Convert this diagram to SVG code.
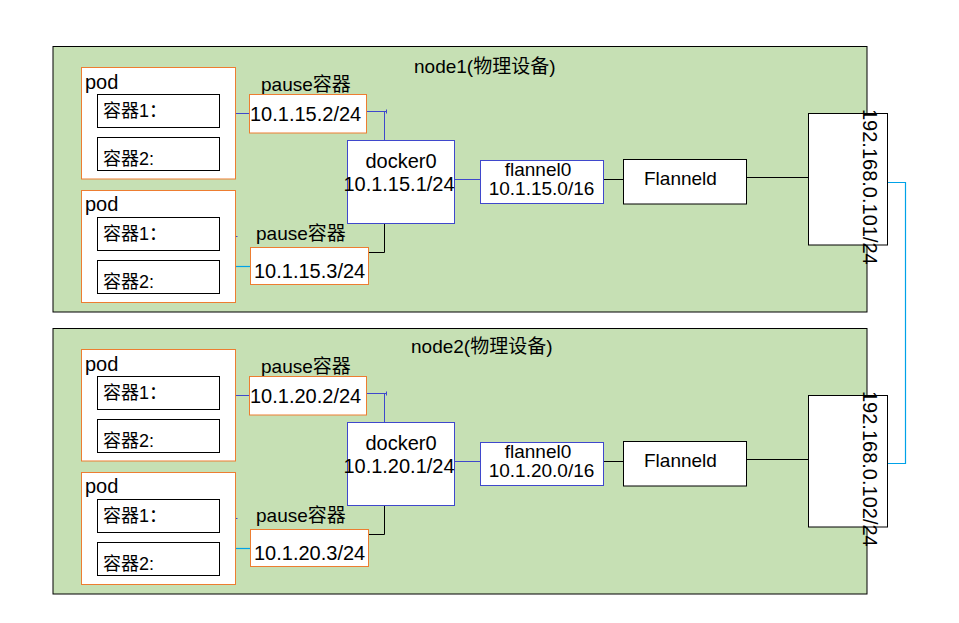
<svg xmlns="http://www.w3.org/2000/svg" width="959" height="623" viewBox="0 0 959 623">
<style>
text{font-family:"Liberation Sans","Noto Sans CJK SC",sans-serif;fill:#000}
.frame{fill:#c6e0b4;stroke:#000;stroke-width:1}
.pod{fill:#fff;stroke:#ed7d31;stroke-width:1}
.ctr{fill:#fff;stroke:#000;stroke-width:1}
.pause{fill:#fff;stroke:#ed7d31;stroke-width:1}
.blue{fill:#fff;stroke:#3f48cc;stroke-width:1}
.blk{fill:#fff;stroke:#000;stroke-width:1}
.t18{font-size:18px}
.t19{font-size:19px}
.t20{font-size:20px}
.mid{text-anchor:middle}
.cb{fill:none;stroke:#3f48cc;stroke-width:1}
.ck{fill:none;stroke:#000;stroke-width:1}
.cc{fill:none;stroke:#00a2e8;stroke-width:1.2}
</style>

<g id="node1">
<rect class="frame" x="53" y="46.5" width="814" height="265.5"/>
<text class="t19" x="414" y="72.5">node1(物理设备)</text>
</g>
<g id="node2">
<rect class="frame" x="53" y="328.5" width="814" height="265.5"/>
<text class="t19" x="411" y="352.5">node2(物理设备)</text>
</g>

<g id="connectors">
<!-- node1 -->
<line class="cb" x1="235.5" y1="113.5" x2="249.5" y2="113.5"/>
<polyline class="cb" points="366.5,111.5 386.5,111.5"/>
<line class="cb" x1="386.5" y1="109.5" x2="386.5" y2="113.5"/>
<line class="cb" x1="384.5" y1="111.5" x2="384.5" y2="140.5"/>
<line class="cb" x1="235.5" y1="236.5" x2="237.5" y2="236.5"/>
<line class="cc" x1="235.5" y1="266.5" x2="250.5" y2="266.5"/>
<polyline class="ck" points="368.5,252.5 384.5,252.5 384.5,223.5"/>
<line class="cb" x1="454.5" y1="179.5" x2="480.5" y2="179.5"/>
<line class="ck" x1="603.5" y1="179.5" x2="623.5" y2="179.5"/>
<line class="ck" x1="746.5" y1="177.5" x2="810" y2="177.5"/>
<!-- node2 -->
<line class="cb" x1="235.5" y1="395.5" x2="249.5" y2="395.5"/>
<polyline class="cb" points="366.5,393.5 386.5,393.5"/>
<line class="cb" x1="386.5" y1="391.5" x2="386.5" y2="395.5"/>
<line class="cb" x1="384.5" y1="393.5" x2="384.5" y2="422.5"/>
<line class="cb" x1="235.5" y1="518.5" x2="237.5" y2="518.5"/>
<line class="cc" x1="235.5" y1="548.5" x2="250.5" y2="548.5"/>
<polyline class="ck" points="368.5,534.5 384.5,534.5 384.5,505.5"/>
<line class="cb" x1="454.5" y1="461.5" x2="480.5" y2="461.5"/>
<line class="ck" x1="603.5" y1="461.5" x2="623.5" y2="461.5"/>
<line class="ck" x1="746.5" y1="459.5" x2="810" y2="459.5"/>
<!-- between nodes -->
<polyline class="cc" points="887,182.5 905.5,182.5 905.5,463.5 886,463.5"/>
</g>

<!-- ===== node1 contents ===== -->
<g id="n1-pod1">
<rect class="pod" x="81.5" y="67.5" width="154" height="111.5"/>
<text class="t20" x="85" y="88.5">pod</text>
</g>
<g id="n1-pod1-c1">
<rect class="ctr" x="97.5" y="94.5" width="122" height="33"/>
<text class="t18" x="103" y="117">容器1：</text>
</g>
<g id="n1-pod1-c2">
<rect class="ctr" x="97.5" y="137.5" width="122" height="33"/>
<text class="t18" x="103" y="165">容器2:</text>
</g>
<g id="n1-pod2">
<rect class="pod" x="81.5" y="190.5" width="154" height="112"/>
<text class="t20" x="85" y="211">pod</text>
</g>
<g id="n1-pod2-c1">
<rect class="ctr" x="97.5" y="217.5" width="122" height="33"/>
<text class="t18" x="103" y="239.5">容器1：</text>
</g>
<g id="n1-pod2-c2">
<rect class="ctr" x="97.5" y="260.5" width="122" height="33"/>
<text class="t18" x="103" y="288">容器2:</text>
</g>
<g id="n1-pause1">
<text class="t19" x="261" y="90.5">pause容器</text>
<rect class="pause" x="249.5" y="94.5" width="117" height="38.5"/>
<text class="t20" x="250" y="121">10.1.15.2/24</text>
</g>
<g id="n1-pause2">
<text class="t19" x="256" y="239.5">pause容器</text>
<rect class="pause" x="250.5" y="247.5" width="118" height="37"/>
<text class="t20" x="254" y="277.5">10.1.15.3/24</text>
</g>
<g id="n1-docker0">
<rect class="blue" x="347.5" y="140.5" width="107" height="83"/>
<text class="t20 mid" x="401" y="167.5">docker0</text>
<text class="t20 mid" x="399" y="190.5">10.1.15.1/24</text>
</g>
<g id="n1-flannel0">
<rect class="blue" x="480.5" y="160.5" width="123" height="43"/>
<text class="t19 mid" x="538" y="175.5">flannel0</text>
<text class="t19 mid" x="541.5" y="194.5">10.1.15.0/16</text>
</g>
<g id="n1-flanneld">
<rect class="blk" x="623.5" y="159.5" width="123" height="44.5"/>
<text class="t19" x="644" y="184.5">Flanneld</text>
</g>
<g id="n1-eth">
<rect class="blk" x="808.5" y="113.5" width="79" height="131.5"/>
<text class="t20" transform="translate(862.5,109) rotate(90)">192.168.0.101/24</text>
</g>

<!-- ===== node2 contents ===== -->
<g id="n2-pod1">
<rect class="pod" x="81.5" y="349.5" width="154" height="111.5"/>
<text class="t20" x="85" y="370.5">pod</text>
</g>
<g id="n2-pod1-c1">
<rect class="ctr" x="97.5" y="376.5" width="122" height="33"/>
<text class="t18" x="103" y="399">容器1：</text>
</g>
<g id="n2-pod1-c2">
<rect class="ctr" x="97.5" y="419.5" width="122" height="33"/>
<text class="t18" x="103" y="447">容器2:</text>
</g>
<g id="n2-pod2">
<rect class="pod" x="81.5" y="472.5" width="154" height="112"/>
<text class="t20" x="85" y="493">pod</text>
</g>
<g id="n2-pod2-c1">
<rect class="ctr" x="97.5" y="499.5" width="122" height="33"/>
<text class="t18" x="103" y="521.5">容器1：</text>
</g>
<g id="n2-pod2-c2">
<rect class="ctr" x="97.5" y="542.5" width="122" height="33"/>
<text class="t18" x="103" y="570">容器2:</text>
</g>
<g id="n2-pause1">
<text class="t19" x="261" y="372.5">pause容器</text>
<rect class="pause" x="249.5" y="376.5" width="117" height="38.5"/>
<text class="t20" x="250" y="403">10.1.20.2/24</text>
</g>
<g id="n2-pause2">
<text class="t19" x="256" y="521.5">pause容器</text>
<rect class="pause" x="250.5" y="529.5" width="118" height="37"/>
<text class="t20" x="254" y="559.5">10.1.20.3/24</text>
</g>
<g id="n2-docker0">
<rect class="blue" x="347.5" y="422.5" width="107" height="83"/>
<text class="t20 mid" x="401" y="449.5">docker0</text>
<text class="t20 mid" x="399" y="472.5">10.1.20.1/24</text>
</g>
<g id="n2-flannel0">
<rect class="blue" x="480.5" y="442.5" width="123" height="43"/>
<text class="t19 mid" x="538" y="457.5">flannel0</text>
<text class="t19 mid" x="541.5" y="476.5">10.1.20.0/16</text>
</g>
<g id="n2-flanneld">
<rect class="blk" x="623.5" y="441.5" width="123" height="44.5"/>
<text class="t19" x="644" y="466.5">Flanneld</text>
</g>
<g id="n2-eth">
<rect class="blk" x="808.5" y="395.5" width="79" height="131.5"/>
<text class="t20" transform="translate(862.5,391) rotate(90)">192.168.0.102/24</text>
</g>
</svg>
